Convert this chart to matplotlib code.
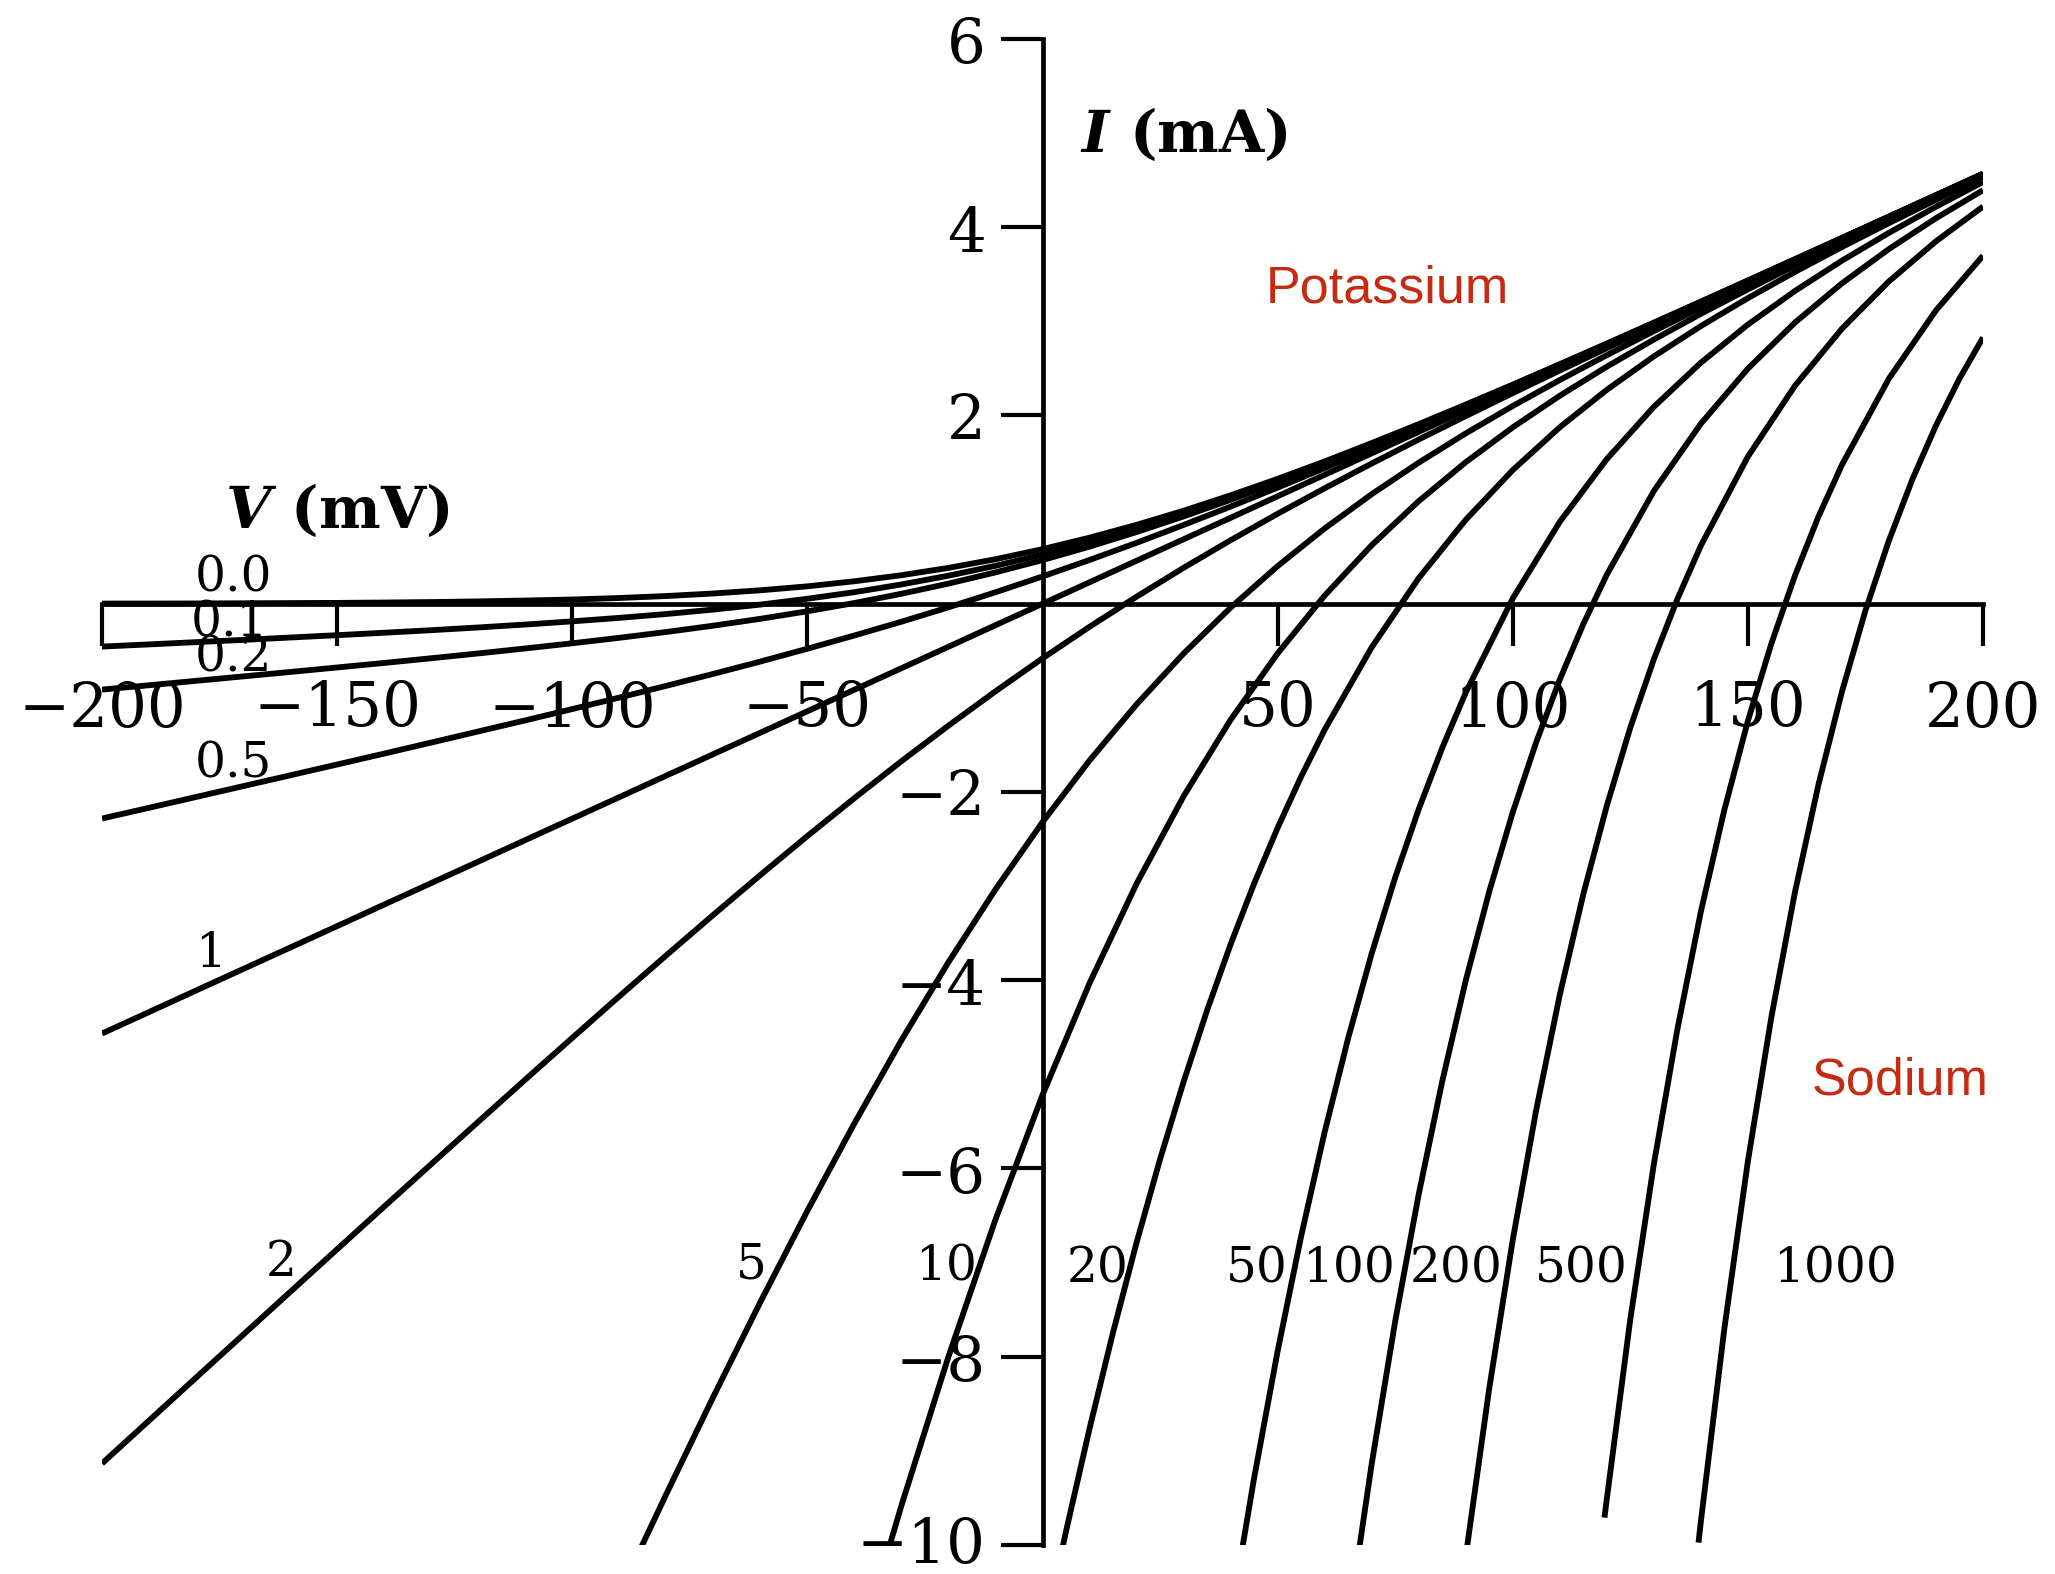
import matplotlib
matplotlib.use("Agg")
import matplotlib.pyplot as plt
from matplotlib.transforms import ScaledTranslation

# membrane potential samples (mV) shared by the low-ratio curves
v_full = [-200, -190, -180, -170, -160, -150, -140, -130, -120, -110,
          -100, -90, -80, -70, -60, -50, -40, -30, -20, -10,
          0, 10, 20, 30, 40, 50, 60, 70, 80, 90,
          100, 110, 120, 130, 140, 150, 160, 170, 180, 190, 200]

# current (mA) for each Na/K permeability ratio
i_r0 = [0.002, 0.002, 0.003, 0.005, 0.007, 0.009, 0.013, 0.018, 0.025, 0.034,
        0.045, 0.061, 0.082, 0.109, 0.143, 0.185, 0.239, 0.303, 0.381, 0.473,
        0.580, 0.702, 0.838, 0.988, 1.152, 1.327, 1.512, 1.707, 1.908, 2.116,
        2.328, 2.545, 2.764, 2.986, 3.209, 3.434, 3.660, 3.886, 4.113, 4.340, 4.568]
i_r01 = [-0.455, -0.432, -0.408, -0.384, -0.359, -0.334, -0.308, -0.281, -0.252, -0.221,
         -0.187, -0.150, -0.109, -0.062, -0.009, 0.053, 0.123, 0.205, 0.298, 0.403,
         0.522, 0.654, 0.800, 0.958, 1.128, 1.308, 1.498, 1.696, 1.900, 2.110,
         2.324, 2.541, 2.762, 2.984, 3.208, 3.433, 3.659, 3.885, 4.112, 4.340, 4.568]
i_r02 = [-0.912, -0.866, -0.819, -0.772, -0.725, -0.677, -0.629, -0.579, -0.528, -0.475,
         -0.420, -0.362, -0.300, -0.233, -0.160, -0.080, 0.008, 0.106, 0.214, 0.333,
         0.464, 0.607, 0.762, 0.928, 1.104, 1.290, 1.484, 1.685, 1.892, 2.104,
         2.319, 2.538, 2.759, 2.982, 3.207, 3.432, 3.658, 3.885, 4.112, 4.340, 4.567]
i_r05 = [-2.282, -2.168, -2.053, -1.938, -1.823, -1.708, -1.592, -1.475, -1.357, -1.239,
         -1.119, -0.997, -0.872, -0.745, -0.614, -0.478, -0.337, -0.191, -0.038, 0.122,
         0.290, 0.465, 0.647, 0.837, 1.032, 1.234, 1.441, 1.652, 1.867, 2.085,
         2.306, 2.528, 2.752, 2.977, 3.203, 3.429, 3.656, 3.884, 4.111, 4.339, 4.567]
i_r1 = [-4.566, -4.338, -4.109, -3.881, -3.653, -3.425, -3.196, -2.968, -2.740, -2.511,
        -2.283, -2.055, -1.826, -1.598, -1.370, -1.142, -0.913, -0.685, -0.457, -0.228,
        0.000, 0.228, 0.457, 0.685, 0.913, 1.142, 1.370, 1.598, 1.826, 2.055,
        2.283, 2.511, 2.740, 2.968, 3.196, 3.425, 3.653, 3.881, 4.109, 4.338, 4.566]
i_r2 = [-9.134, -8.678, -8.222, -7.767, -7.312, -6.858, -6.405, -5.954, -5.504, -5.056,
        -4.612, -4.171, -3.735, -3.305, -2.882, -2.468, -2.065, -1.673, -1.295, -0.930,
        -0.580, -0.245, 0.075, 0.382, 0.675, 0.956, 1.227, 1.490, 1.745, 1.994,
        2.238, 2.478, 2.715, 2.950, 3.183, 3.415, 3.646, 3.876, 4.106, 4.335, 4.564]

v_r5 = [-90, -80, -70, -60, -50, -40, -30, -20, -10, 0,
        10, 20, 30, 40, 50, 60, 70, 80, 90, 100,
        110, 120, 130, 140, 150, 160, 170, 180, 190, 200]
i_r5 = [-10.518, -9.459, -8.425, -7.419, -6.449, -5.520, -4.638, -3.808, -3.035, -2.320,
        -1.665, -1.069, -0.529, -0.041, 0.400, 0.800, 1.164, 1.499, 1.810, 2.101,
        2.377, 2.641, 2.896, 3.144, 3.387, 3.626, 3.862, 4.096, 4.328, 4.559]

v_r10 = [-40, -30, -20, -10, 0, 10, 20, 30, 40, 50, 60, 70, 80,
         90, 100, 110, 120, 130, 140, 150, 160, 170, 180, 190, 200]
i_r10 = [-11.279, -9.580, -7.998, -6.542, -5.219, -4.031, -2.975, -2.045, -1.233,
         -0.527, 0.087, 0.622, 1.090, 1.504, 1.874, 2.210, 2.519, 2.807, 3.080,
         3.340, 3.592, 3.838, 4.078, 4.316, 4.550]

v_r20 = [0, 5, 10, 15, 20, 25, 30, 35, 40, 45, 50, 55, 60,
         70, 80, 90, 100, 110, 120, 130, 140, 150, 160, 170, 180, 190, 200]
i_r20 = [-11.018, -9.855, -8.763, -7.741, -6.788, -5.901, -5.079, -4.319, -3.618,
         -2.973, -2.380, -1.836, -1.338, -0.463, 0.272, 0.892, 1.420, 1.875,
         2.273, 2.628, 2.950, 3.247, 3.525, 3.790, 4.044, 4.291, 4.533]

v_r50 = [40, 45, 50, 55, 60, 65, 70, 75, 80, 85, 90,
         100, 110, 120, 130, 140, 150, 160, 170, 180, 190, 200]
i_r50 = [-10.772, -9.288, -7.940, -6.718, -5.612, -4.615, -3.716, -2.908, -2.183,
         -1.531, -0.944, 0.057, 0.870, 1.537, 2.092, 2.561, 2.966, 3.323, 3.645,
         3.941, 4.218, 4.481]

v_r100 = [65, 70, 75, 80, 85, 90, 95, 100, 105, 110, 115, 120,
          130, 140, 150, 160, 170, 180, 190, 200]
i_r100 = [-10.839, -9.139, -7.622, -6.274, -5.074, -4.003, -3.057, -2.215, -1.469,
          -0.805, -0.216, 0.309, 1.198, 1.913, 2.498, 2.987, 3.404, 3.769, 4.096, 4.394]

v_r200 = [90, 95, 100, 105, 110, 115, 120, 125, 130, 135, 140,
          150, 160, 170, 180, 190, 200]
i_r200 = [-10.122, -8.336, -6.758, -5.374, -4.155, -3.086, -2.146, -1.315, -0.590,
          0.049, 0.617, 1.563, 2.315, 2.922, 3.425, 3.851, 4.220]

v_r500 = [119.5, 120, 125, 130, 135, 140, 145, 150, 155, 160, 165, 170, 180, 190, 200]
i_r500 = [-9.709, -9.511, -7.600, -5.954, -4.523, -3.271, -2.189, -1.244, -0.422,
          0.297, 0.925, 1.476, 2.393, 3.117, 3.698]

v_r1000 = [139.5, 140, 145, 150, 155, 160, 165, 170, 175, 180, 185, 190, 195, 200]
i_r1000 = [-9.974, -9.751, -7.699, -5.922, -4.390, -3.066, -1.923, -0.934, -0.072,
           0.673, 1.324, 1.894, 2.393, 2.828]

curves = [(v_full, i_r0), (v_full, i_r01), (v_full, i_r02), (v_full, i_r05),
          (v_full, i_r1), (v_full, i_r2), (v_r5, i_r5), (v_r10, i_r10),
          (v_r20, i_r20), (v_r50, i_r50), (v_r100, i_r100), (v_r200, i_r200),
          (v_r500, i_r500), (v_r1000, i_r1000)]

ratio_labels = ["0.0", "0.1", "0.2", "0.5", "1", "2", "5", "10",
                "20", "50", "100", "200", "500", "1000"]
label_pos = [(-172, 0.27), (-173, -0.20), (-172, -0.58), (-172, -1.70),
             (-177, -3.72), (-162, -7.0), (-62, -7.03), (-20.5, -7.05),
             (11.7, -7.07), (45.6, -7.07), (65.0, -7.07), (88.0, -7.07),
             (114.5, -7.07), (168.5, -7.07)]

x_ticks = [-200, -150, -100, -50, 50, 100, 150, 200]
x_tick_labels = ["\u2212200", "\u2212150", "\u2212100", "\u221250", "50", "100", "150", "200"]
y_ticks = [-10, -8, -6, -4, -2, 2, 4, 6]
y_tick_labels = ["\u221210", "\u22128", "\u22126", "\u22124", "\u22122", "2", "4", "6"]

plt.rcParams["font.family"] = "DejaVu Serif"
plt.rcParams["mathtext.fontset"] = "custom"
plt.rcParams["mathtext.it"] = "DejaVu Serif:italic:bold"
plt.rcParams["mathtext.rm"] = "DejaVu Serif:bold"

fig = plt.figure(figsize=(20.55, 15.74), dpi=100)
ax = fig.add_axes([0.04964, 0.018425, 0.91533, 0.9568])
ax.set_xlim(-200, 200)
ax.set_ylim(-10, 6)

for v, cur in curves:
    ax.plot(v, cur, color="black", linewidth=4.2, solid_capstyle="butt", zorder=3)

# axes through the origin
ax.spines["left"].set_position(("data", 0))
ax.spines["bottom"].set_position(("data", 0))
ax.spines["top"].set_visible(False)
ax.spines["right"].set_visible(False)
for s in ("left", "bottom"):
    ax.spines[s].set_linewidth(3.4)
    ax.spines[s].set_zorder(4)
ax.xaxis.set_ticks_position("bottom")
ax.yaxis.set_ticks_position("left")
ax.set_xticks(x_ticks)
ax.set_xticklabels(x_tick_labels)
ax.set_yticks(y_ticks)
ax.set_yticklabels(y_tick_labels)
ax.tick_params(axis="both", direction="out", length=30, width=3.0, labelsize=44)
ax.tick_params(axis="x", pad=24)
ax.tick_params(axis="y", pad=11)

# lift the bottom y label a little so it stays inside the figure
bottom_lbl = ax.get_yticklabels()[0]
bottom_lbl.set_transform(bottom_lbl.get_transform()
                         + ScaledTranslation(0, 5 / 72, fig.dpi_scale_trans))

for txt, (x, y) in zip(ratio_labels, label_pos):
    ax.text(x, y, txt, fontsize=35, ha="center", va="center", zorder=2)

ax.text(-150, 0.98, r"$V$ (mV)", fontsize=42, fontweight="bold", ha="center", va="center")
ax.text(30, 4.98, r"$I$ (mA)", fontsize=42, fontweight="bold", ha="center", va="center")

ax.text(73.3, 3.34, "Potassium", fontsize=37.5, color="#c62a12",
        family="Liberation Sans", ha="center", va="center")
ax.text(182.4, -5.07, "Sodium", fontsize=37.5, color="#c62a12",
        family="Liberation Sans", ha="center", va="center")

fig.savefig("out.png", dpi=100)
